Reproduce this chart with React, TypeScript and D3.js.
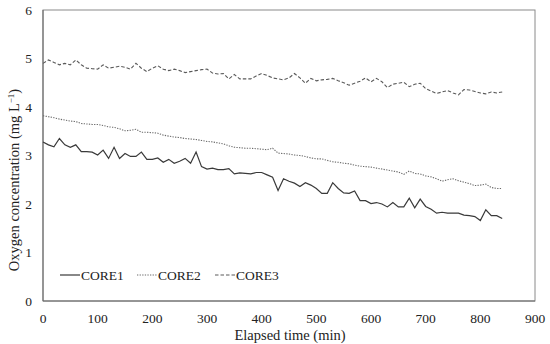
import * as d3 from "d3";

// elapsed time (min), every 10 min
const times: number[] = d3.range(0, 850, 10);

const core1: number[] = [
  3.28, 3.22, 3.18, 3.35, 3.22, 3.17, 3.22, 3.08, 3.08, 3.07,
  3.01, 3.11, 2.94, 3.17, 2.94, 3.04, 2.98, 2.98, 3.07, 2.92,
  2.92, 2.95, 2.86, 2.92, 2.84, 2.88, 2.94, 2.84, 3.07, 2.77,
  2.72, 2.74, 2.71, 2.71, 2.73, 2.62, 2.64, 2.63, 2.62, 2.65,
  2.65, 2.6, 2.55, 2.28, 2.52, 2.47, 2.43, 2.36, 2.44, 2.39,
  2.32, 2.22, 2.22, 2.44, 2.32, 2.23, 2.22, 2.27, 2.07, 2.07,
  2.01, 2.03, 2.0, 1.94, 2.03, 1.94, 1.94, 2.12, 1.92, 2.1,
  1.95, 1.89, 1.81, 1.83, 1.81, 1.81, 1.81, 1.77, 1.76, 1.74,
  1.66, 1.88, 1.76, 1.76, 1.7,
];

const core2: number[] = [
  3.82, 3.8, 3.78, 3.75, 3.73, 3.71, 3.7, 3.66, 3.65, 3.64,
  3.64, 3.62, 3.59, 3.58, 3.55, 3.51, 3.52, 3.54, 3.48, 3.48,
  3.47, 3.46, 3.42, 3.4, 3.38, 3.37, 3.35, 3.34, 3.33, 3.31,
  3.29, 3.28, 3.26, 3.24, 3.2, 3.17, 3.16, 3.15, 3.15, 3.14,
  3.13, 3.12, 3.15, 3.05, 3.04, 3.03, 3.01, 3.0, 2.98, 2.95,
  2.93, 2.93, 2.9, 2.87, 2.86, 2.84, 2.83, 2.8, 2.78, 2.77,
  2.76, 2.74, 2.72, 2.7, 2.68, 2.66, 2.61, 2.68, 2.63, 2.62,
  2.58, 2.56, 2.52, 2.47, 2.5, 2.52, 2.48, 2.45, 2.42, 2.38,
  2.39, 2.41, 2.34, 2.32, 2.32,
];

const core3: number[] = [
  4.9, 4.97, 4.92, 4.87, 4.9, 4.87, 4.97, 4.87, 4.8, 4.79,
  4.78, 4.87, 4.8, 4.82, 4.84, 4.82, 4.78, 4.9, 4.8, 4.73,
  4.8, 4.85, 4.78, 4.75, 4.78, 4.75, 4.71, 4.73, 4.75, 4.77,
  4.78, 4.7, 4.68, 4.69, 4.58, 4.67, 4.58, 4.58, 4.58, 4.64,
  4.69, 4.65, 4.6, 4.58, 4.56, 4.6, 4.69, 4.6, 4.49, 4.59,
  4.54, 4.56, 4.57, 4.59, 4.54, 4.5, 4.45, 4.49, 4.53, 4.6,
  4.52, 4.59, 4.52, 4.4, 4.47, 4.49, 4.51, 4.42, 4.47, 4.49,
  4.38, 4.33, 4.28, 4.31, 4.34, 4.29, 4.25, 4.36, 4.35, 4.32,
  4.29, 4.27, 4.31, 4.29, 4.31,
];

const xTicks: number[] = d3.range(0, 1000, 100);
const yTicks: number[] = d3.range(0, 7, 1);

const seriesNames: string[] = ["CORE1", "CORE2", "CORE3"];
const seriesValues: number[][] = [core1, core2, core3];

const W = 550;
const H = 344;
const plot = { left: 43, right: 535, top: 10, bottom: 301 };
const font = '"Liberation Serif", "Times New Roman", Times, serif';
const dashes = ["none", "1.3,1.3", "3.5,2"];
const colors = ["#3a3a3a", "#6a6a6a", "#5a5a5a"];
const legendX = [60, 137, 215];

export default function App() {
  const x = d3.scaleLinear().domain([0, 900]).range([plot.left, plot.right]);
  const y = d3.scaleLinear().domain([0, 6]).range([plot.bottom, plot.top]);

  const line = d3
    .line<number>()
    .x((_, i) => x(times[i]))
    .y((d) => y(d));

  const tick = { fontFamily: font, fontSize: 13.5, fill: "#222" } as const;
  const title = { fontFamily: font, fontSize: 14.5, fill: "#222" } as const;

  return (
    <svg
      width={W}
      height={H}
      viewBox={`0 0 ${W} ${H}`}
      style={{ position: "fixed", left: 0, top: 0, background: "#fff", fontFamily: font }}
    >
      <rect x={0} y={0} width={W} height={H} fill="#fff" />
      <rect
        x={plot.left}
        y={plot.top}
        width={plot.right - plot.left}
        height={plot.bottom - plot.top}
        fill="none"
        stroke="#8a8a8a"
        strokeWidth={1}
      />
      <line x1={plot.left} x2={plot.left} y1={plot.top} y2={plot.bottom} stroke="#666" />
      <line x1={plot.left} x2={plot.right} y1={plot.bottom} y2={plot.bottom} stroke="#666" />

      {yTicks.map((t) => (
        <text
          key={`y${t}`}
          x={32}
          y={y(t)}
          textAnchor="end"
          dominantBaseline="central"
          style={tick}
        >
          {t}
        </text>
      ))}
      {xTicks.map((t) => (
        <text key={`x${t}`} x={x(t)} y={323} textAnchor="middle" style={tick}>
          {t}
        </text>
      ))}

      <text x={290} y={340} textAnchor="middle" style={title}>
        Elapsed time (min)
      </text>
      <text transform="translate(19,180) rotate(-90)" textAnchor="middle" style={title}>
        Oxygen concentration (mg L
        <tspan style={{ fontSize: 9 }} dy={-5}>
          −1
        </tspan>
        <tspan dy={5}>)</tspan>
      </text>

      {seriesValues.map((vals, i) => (
        <path
          key={seriesNames[i]}
          d={line(vals) ?? ""}
          fill="none"
          stroke={colors[i]}
          strokeWidth={i === 0 ? 1.2 : 1.1}
          strokeDasharray={dashes[i]}
        />
      ))}

      {seriesNames.map((name, i) => (
        <g key={`leg${name}`} transform={`translate(${legendX[i]},275)`}>
          <line
            x1={0}
            x2={20}
            y1={0}
            y2={0}
            stroke={colors[i]}
            strokeWidth={1.2}
            strokeDasharray={dashes[i]}
          />
          <text x={21} y={0} dominantBaseline="central" style={tick}>
            {name}
          </text>
        </g>
      ))}
    </svg>
  );
}
